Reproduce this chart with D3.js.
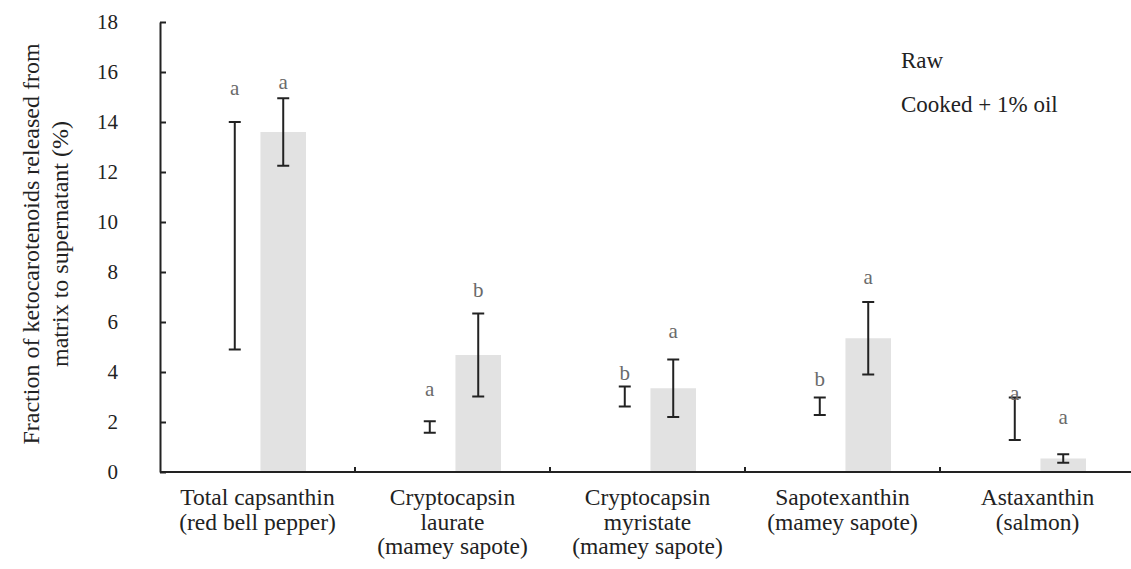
<!DOCTYPE html>
<html>
<head>
<meta charset="utf-8">
<script src="https://cdn.jsdelivr.net/npm/d3@7"></script>
<style>
  body { margin: 0; background: #fff; }
  svg { display: block; }
</style>
</head>
<body>
<svg id="chart" width="1131" height="569"></svg>
<script>
"use strict";

// Data.
var categories = ["capsanthin", "laurate", "myristate", "sapotexanthin", "astaxanthin"];
var categoryLabels = [
  ["Total capsanthin", "(red bell pepper)"],
  ["Cryptocapsin", "laurate", "(mamey sapote)"],
  ["Cryptocapsin", "myristate", "(mamey sapote)"],
  ["Sapotexanthin", "(mamey sapote)"],
  ["Astaxanthin", "(salmon)"]
];
var series = ["Raw", "Cooked + 1% oil"];
var rawMean = [9.45, 1.8, 3.02, 2.63, 2.13];
var rawErr = [4.55, 0.23, 0.4, 0.35, 0.85];
var cookedMean = [13.6, 4.68, 3.35, 5.35, 0.54];
var cookedErr = [1.35, 1.66, 1.15, 1.45, 0.17];
var rawLetters = ["a", "a", "b", "b", "a"];
var cookedLetters = ["a", "b", "a", "a", "a"];
// Height (in axis units) where each significance letter sits.
var rawLetterAt = [15.35, 3.31, 3.95, 3.71, 3.15];
var cookedLetterAt = [15.59, 7.28, 5.62, 7.78, 2.18];
var yTicks = [0, 2, 4, 6, 8, 10, 12, 14, 16, 18];

var serif = "'Liberation Serif', Tinos, 'Times New Roman', Times, 'DejaVu Serif', serif";

var svg = d3.select("#chart")
  .attr("font-family", serif);
var width = 1131;

var x = d3.scaleBand()
  .domain(categories)
  .range([160, 1135]);

var x1 = d3.scaleBand()
  .domain(series)
  .range([52, 146])
  .paddingInner(0.06);

var y = d3.scaleLinear()
  .domain([0, 18])
  .range([472, 22]);

// Build one row per bar.
var rows = [];
categories.forEach(function (c, i) {
  rows.push({cat: c, s: series[0], mean: rawMean[i], err: rawErr[i], letter: rawLetters[i], at: rawLetterAt[i]});
  rows.push({cat: c, s: series[1], mean: cookedMean[i], err: cookedErr[i], letter: cookedLetters[i], at: cookedLetterAt[i]});
});

function cx(d) { return x(d.cat) + x1(d.s) + x1.bandwidth() / 2; }

// Bars: raw is white, cooked light grey.
svg.append("g").selectAll("rect")
  .data(rows)
  .enter().append("rect")
  .attr("x", function (d) { return x(d.cat) + x1(d.s); })
  .attr("y", function (d) { return y(d.mean); })
  .attr("width", x1.bandwidth())
  .attr("height", function (d) { return y(0) - y(d.mean); })
  .attr("fill", function (d) { return d.s === series[0] ? "#ffffff" : "#e2e2e2"; });

// Error bars.
var eb = svg.append("g")
  .attr("stroke", "#222")
  .attr("stroke-width", 2);
rows.forEach(function (d) {
  var c = cx(d);
  var top = y(d.mean + d.err), bot = y(d.mean - d.err);
  eb.append("line").attr("x1", c).attr("x2", c).attr("y1", top).attr("y2", bot);
  eb.append("line").attr("x1", c - 6).attr("x2", c + 6).attr("y1", top).attr("y2", top);
  eb.append("line").attr("x1", c - 6).attr("x2", c + 6).attr("y1", bot).attr("y2", bot);
});

// Significance letters.
svg.append("g").selectAll("text")
  .data(rows)
  .enter().append("text")
  .attr("x", cx)
  .attr("y", function (d) { return y(d.at); })
  .attr("dy", "0.32em")
  .attr("text-anchor", "middle")
  .style("font-family", serif)
  .style("font-size", "21px")
  .style("fill", "#6a6a6a")
  .text(function (d) { return d.letter; });

// Y axis.
var gy = svg.append("g")
  .attr("transform", "translate(160,0)")
  .call(d3.axisLeft(y).tickValues(yTicks).tickSizeInner(-6).tickSizeOuter(0).tickPadding(42));
gy.attr("font-family", serif);
gy.select(".domain").attr("stroke", "#222").attr("stroke-width", 2);
gy.selectAll(".tick line").attr("stroke", "#222").attr("stroke-width", 2);
gy.selectAll(".tick text")
  .style("font-family", serif)
  .style("font-size", "21px")
  .style("fill", "#222")
  .attr("text-anchor", "end");

// X axis with multi-line labels.
var gx = svg.append("g")
  .attr("transform", "translate(0," + y(0) + ")")
  .call(d3.axisBottom(x).tickSize(0).tickPadding(0).tickFormat(""));
gx.select(".domain")
  .attr("d", "M160,0H" + width)
  .attr("stroke", "#222").attr("stroke-width", 2);

gx.selectAll(".boundary")
  .data(categories.slice(1))
  .enter().append("line")
  .attr("x1", function (d) { return x(d); })
  .attr("x2", function (d) { return x(d); })
  .attr("y1", -5).attr("y2", 1)
  .attr("stroke", "#222").attr("stroke-width", 2);

var labels = svg.append("g").selectAll("text")
  .data(categories)
  .enter().append("text")
  .attr("text-anchor", "middle")
  .style("font-family", serif)
  .style("font-size", "23.5px")
  .style("fill", "#222");
labels.selectAll("tspan")
  .data(function (d, i) { return categoryLabels[i].map(function (t) { return {cat: d, t: t}; }); })
  .enter().append("tspan")
  .attr("x", function (d) { return x(d.cat) + x.bandwidth() / 2; })
  .attr("y", function (d, j) { return 505 + j * 24.5; })
  .text(function (d) { return d.t; });

// Y axis title.
var titleLines = ["Fraction of ketocarotenoids released from", "matrix to supernatant (%)"];
svg.append("g").selectAll("text")
  .data(titleLines)
  .enter().append("text")
  .attr("transform", function (d, i) { return "translate(" + (39 + i * 29) + ",244) rotate(-90)"; })
  .attr("text-anchor", "middle")
  .style("font-family", serif)
  .style("font-size", "24px")
  .style("fill", "#222")
  .text(function (d) { return d; });

// Legend (text only, as in the figure).
svg.append("g").selectAll("text")
  .data(series)
  .enter().append("text")
  .attr("x", 901)
  .attr("y", function (d, i) { return 68 + i * 44; })
  .style("font-family", serif)
  .style("font-size", "23px")
  .style("fill", "#222")
  .text(function (d) { return d; });
</script>
</body>
</html>
